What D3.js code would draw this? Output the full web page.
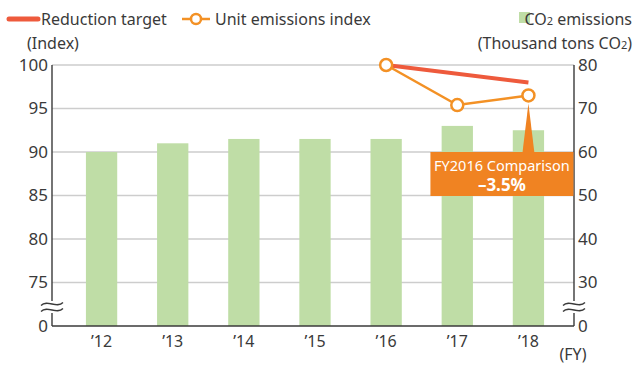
<!DOCTYPE html>
<html>
<head>
<meta charset="utf-8">
<script src="https://cdn.jsdelivr.net/npm/d3@7"></script>
<style>
  body { margin: 0; background: #fff; }
  svg { display: block; }
  text { font-family: "Noto Sans", "Open Sans", sans-serif; fill: #3a3a3a; }
</style>
</head>
<body>
<svg id="chart" width="640" height="365"></svg>
<script>
// Fiscal years on the category axis
const years = ["’12", "’13", "’14", "’15", "’16", "’17", "’18"];
// CO2 emissions, thousand tons CO2 (right axis)
const co2Emissions = [60, 62, 63, 63, 63, 66, 65];
// Reduction target index (left axis)
const targetYears = ["’16", "’18"];
const targetIndex = [100, 98];
// Unit emissions index (left axis)
const unitYears = ["’16", "’17", "’18"];
const unitIndex = [100, 95.4, 96.5];
// Axis ticks (lowest value of each axis is shown as 0 below a break)
const leftTicks = [70, 75, 80, 85, 90, 95, 100];
const rightTicks = [20, 30, 40, 50, 60, 70, 80];
const leftTickLabels = ["0", "75", "80", "85", "90", "95", "100"];
const rightTickLabels = ["0", "30", "40", "50", "60", "70", "80"];
const calloutLines = ["FY2016 Comparison", "–3.5%"];

const svg = d3.select("#chart");
const plot = { left: 52, right: 574, top: 65, bottom: 326 };

const x = d3.scaleBand().domain(years).range([66, 564]).paddingInner(0.56).paddingOuter(0.28);
const yL = d3.scaleLinear().domain([70, 100]).range([plot.bottom, plot.top]);
const yR = d3.scaleLinear().domain([20, 80]).range([plot.bottom, plot.top]);
const cx = d => x(d) + x.bandwidth() / 2;

const colors = {
  bar: "#bfdda6",
  target: "#ee5a3c",
  unit: "#f39125",
  callout: "#f08322",
  grid: "#cdcdcd",
  axis: "#3a3a3a"
};

// Horizontal gridlines
svg.append("g").selectAll("line")
  .data(leftTicks.slice(1))
  .join("line")
  .attr("x1", plot.left).attr("x2", plot.right)
  .attr("y1", d => yL(d)).attr("y2", d => yL(d))
  .attr("stroke", colors.grid).attr("stroke-width", 1.4);

// CO2 emission bars
svg.append("g").selectAll("rect")
  .data(years.map((y, i) => ({ y, v: co2Emissions[i] })))
  .join("rect")
  .attr("x", d => x(d.y))
  .attr("width", x.bandwidth())
  .attr("y", d => yR(d.v))
  .attr("height", d => yR(20) - yR(d.v))
  .attr("fill", colors.bar);

// Left axis
const leftAxis = d3.axisLeft(yL).tickValues(leftTicks).tickSize(0).tickPadding(4)
  .tickFormat((d, i) => leftTickLabels[i]);
const gL = svg.append("g").attr("transform", `translate(${plot.left},0)`).call(leftAxis);
gL.select(".domain").remove();
gL.selectAll("text").attr("font-size", 17).style("font-family", null).attr("fill", "#3a3a3a");

// Right axis
const rightAxis = d3.axisRight(yR).tickValues(rightTicks).tickSize(0).tickPadding(4)
  .tickFormat((d, i) => rightTickLabels[i]);
const gR = svg.append("g").attr("transform", `translate(${plot.right},0)`).call(rightAxis);
gR.select(".domain").remove();
gR.selectAll("text").attr("font-size", 17).style("font-family", null).attr("fill", "#3a3a3a");

// Bottom axis labels
const bottomAxis = d3.axisBottom(x).tickSize(0).tickPadding(10);
const gB = svg.append("g").attr("transform", `translate(0,${plot.bottom})`).call(bottomAxis);
gB.select(".domain").remove();
gB.selectAll("text").attr("font-size", 16).style("font-family", null).attr("fill", "#3a3a3a");

svg.append("text").attr("x", 573).attr("y", 360).attr("text-anchor", "middle")
  .attr("font-size", 16).text("(FY)");

// Axis frame lines
const frame = svg.append("g").attr("stroke", colors.axis).attr("stroke-width", 1.4).attr("fill", "none");
frame.append("line").attr("x1", plot.left).attr("x2", plot.left).attr("y1", plot.top).attr("y2", plot.bottom);
frame.append("line").attr("x1", plot.right).attr("x2", plot.right).attr("y1", plot.top).attr("y2", plot.bottom);
frame.append("line").attr("x1", plot.left).attr("x2", plot.right).attr("y1", plot.bottom).attr("y2", plot.bottom);

// Axis break marks
function breakMark(xc) {
  const yc = 307;
  const g = svg.append("g");
  g.append("rect").attr("x", xc - 3).attr("y", yc - 6).attr("width", 6).attr("height", 12).attr("fill", "#fff");
  [-3, 3].forEach(dy => {
    const y0 = yc + dy;
    g.append("path")
      .attr("d", `M${xc - 11},${y0 + 1.5} C${xc - 5},${y0 - 5} ${xc + 5},${y0 + 5} ${xc + 11},${y0 - 1.5}`)
      .attr("fill", "none").attr("stroke", colors.axis).attr("stroke-width", 1.3);
  });
}
breakMark(plot.left);
breakMark(plot.right);

// Reduction target line
const targetData = targetYears.map((y, i) => ({ y, v: targetIndex[i] }));
svg.append("path")
  .datum(targetData)
  .attr("d", d3.line().x(d => cx(d.y)).y(d => yL(d.v)))
  .attr("fill", "none").attr("stroke", colors.target).attr("stroke-width", 4);

// Unit emissions index line with markers
const unitData = unitYears.map((y, i) => ({ y, v: unitIndex[i] }));
svg.append("path")
  .datum(unitData)
  .attr("d", d3.line().x(d => cx(d.y)).y(d => yL(d.v)))
  .attr("fill", "none").attr("stroke", colors.unit).attr("stroke-width", 2.5);
svg.append("g").selectAll("circle")
  .data(unitData)
  .join("circle")
  .attr("cx", d => cx(d.y)).attr("cy", d => yL(d.v)).attr("r", 6)
  .attr("fill", "#fff").attr("stroke", colors.unit).attr("stroke-width", 2.5);

// Callout for latest year
const last = unitData[unitData.length - 1];
const px = cx(last.y), py = yL(last.v);
const boxW = 143, boxH = 44, boxX = px - 98, boxY = 152;
const callout = svg.append("g");
callout.append("path")
  .attr("d", `M${px},${py + 8} L${px + 6},${boxY + 1} L${px - 6},${boxY + 1} Z`)
  .attr("fill", colors.callout);
callout.append("rect")
  .attr("x", boxX).attr("y", boxY).attr("width", boxW).attr("height", boxH)
  .attr("fill", colors.callout);
callout.append("text").attr("x", boxX + boxW / 2).attr("y", boxY + 19)
  .attr("text-anchor", "middle").attr("font-size", 14.5).style("fill", "#fff")
  .text(calloutLines[0]);
callout.append("text").attr("x", boxX + boxW / 2).attr("y", boxY + 39)
  .attr("text-anchor", "middle").attr("font-size", 17).attr("font-weight", "bold").style("fill", "#fff")
  .text(calloutLines[1]);

// Legend
const legend = svg.append("g");
legend.append("line").attr("x1", 9).attr("x2", 38).attr("y1", 19).attr("y2", 19)
  .attr("stroke", colors.target).attr("stroke-width", 5).attr("stroke-linecap", "round");
legend.append("text").attr("x", 41).attr("y", 25).attr("font-size", 16).text("Reduction target");
legend.append("line").attr("x1", 182).attr("x2", 210).attr("y1", 19).attr("y2", 19)
  .attr("stroke", colors.unit).attr("stroke-width", 2.5);
legend.append("circle").attr("cx", 196).attr("cy", 19).attr("r", 5)
  .attr("fill", "#fff").attr("stroke", colors.unit).attr("stroke-width", 2.5);
legend.append("text").attr("x", 215).attr("y", 25).attr("font-size", 16).text("Unit emissions index");
legend.append("rect").attr("x", 519).attr("y", 12).attr("width", 11).attr("height", 11).attr("fill", colors.bar);
const co2Label = legend.append("text").attr("x", 632).attr("y", 25).attr("text-anchor", "end").attr("font-size", 16);
co2Label.append("tspan").text("CO");
co2Label.append("tspan").attr("font-size", 11).text("2");
co2Label.append("tspan").text(" emissions");
legend.append("text").attr("x", 27).attr("y", 49).attr("font-size", 16).text("(Index)");
const unitLabel = legend.append("text").attr("x", 632).attr("y", 49).attr("text-anchor", "end").attr("font-size", 16);
unitLabel.append("tspan").text("(Thousand tons CO");
unitLabel.append("tspan").attr("font-size", 11).text("2");
unitLabel.append("tspan").text(")");
</script>
</body>
</html>
